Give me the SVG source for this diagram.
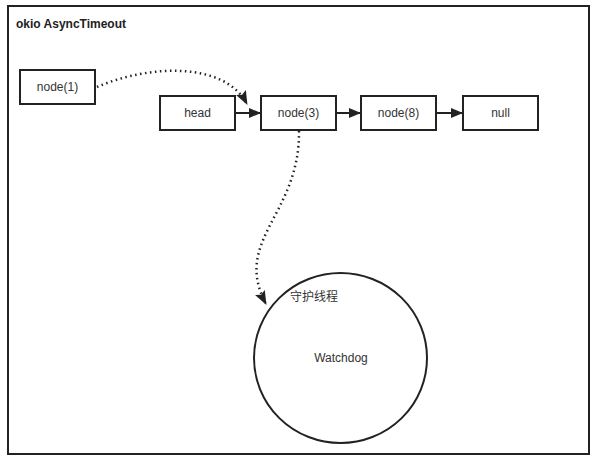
<svg xmlns="http://www.w3.org/2000/svg" width="597" height="462" viewBox="0 0 597 462">
<defs>
<marker id="ah" markerWidth="12" markerHeight="10" refX="11" refY="5" orient="auto" markerUnits="userSpaceOnUse">
<path d="M0,0 L12,5 L0,10 Z" fill="#222"/>
</marker>
<marker id="ah2" markerWidth="14" markerHeight="11" refX="13" refY="5.5" orient="auto" markerUnits="userSpaceOnUse">
<path d="M0,0 L14,5.5 L0,11 L2.5,5.5 Z" fill="#222"/>
</marker>
<style>
.box{fill:#fff;stroke:#222;stroke-width:2}
.t{font-family:"Liberation Sans","Noto Sans CJK SC",sans-serif;font-size:12px;fill:#333;text-anchor:middle;dominant-baseline:central}
.solid{fill:none;stroke:#222;stroke-width:2}
.dot{fill:none;stroke:#222;stroke-width:2.5;stroke-dasharray:1.5 3.5;stroke-linecap:butt}
</style>
</defs>
<rect x="0" y="0" width="597" height="462" fill="#fff"/>
<rect id="frame" x="8" y="6" width="581" height="448" fill="#fff" stroke="#222" stroke-width="2"/>
<text x="16" y="28" style="font-family:'Liberation Sans',sans-serif;font-size:12px;font-weight:bold;fill:#222">okio AsyncTimeout</text>
<g id="node1"><rect class="box" x="20" y="70" width="75" height="34"/><text class="t" x="57.5" y="87">node(1)</text></g>
<g id="head"><rect class="box" x="160" y="96" width="75" height="34"/><text class="t" x="197.5" y="113">head</text></g>
<g id="node3"><rect class="box" x="261" y="96" width="75" height="34"/><text class="t" x="298.5" y="113">node(3)</text></g>
<g id="node8"><rect class="box" x="361" y="96" width="75" height="34"/><text class="t" x="398.5" y="113">node(8)</text></g>
<g id="null"><rect class="box" x="463" y="96" width="75" height="34"/><text class="t" x="500.5" y="113">null</text></g>
<g id="watchdog"><ellipse cx="340.5" cy="358" rx="86.5" ry="85" fill="#fff" stroke="#222" stroke-width="2"/><text class="t" x="341" y="358">Watchdog</text><text class="t" x="314" y="297">守护线程</text></g>
<g id="connectors">
<path class="solid" d="M235,113 L260,113" marker-end="url(#ah)"/>
<path class="solid" d="M336,113 L360,113" marker-end="url(#ah)"/>
<path class="solid" d="M436,113 L462,113" marker-end="url(#ah)"/>
<path class="dot" d="M97,87 C150,64 225,62 247,104" marker-end="url(#ah2)"/>
<path class="dot" d="M299,131 C300,215 232,240 266,304" marker-end="url(#ah2)"/>
</g>
</svg>
